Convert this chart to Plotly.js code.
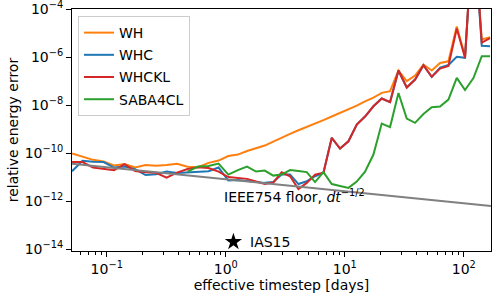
<!DOCTYPE html>
<html>
<head>
<meta charset="utf-8">
<script src="https://cdn.plot.ly/plotly-3.0.1.min.js"></script>
<style>html,body{margin:0;padding:0;background:#fff;}#chart{width:500px;height:300px;}</style>
</head>
<body>
<div id="chart"></div>
<script>
// effective timestep [days]
const timestep = [0.0511, 0.0626, 0.0767, 0.0940, 0.1151, 0.1411, 0.1729, 0.2119, 0.2596, 0.3181,
  0.3898, 0.4775, 0.5852, 0.7168, 0.8699, 1.051, 1.264, 1.510, 1.797, 2.127,
  2.507, 2.949, 3.470, 4.082, 4.793, 5.629, 6.622, 7.778, 9.131, 10.74,
  12.62, 14.81, 17.42, 20.46, 24.03, 28.27, 33.19, 38.98, 45.84, 53.84,
  63.22, 74.35, 87.35, 102.5, 120.6, 141.7, 166.3];

const errWH = [9.53e-11, 6.81e-11, 5.21e-11, 4.51e-11, 3.07e-11, 3.48e-11, 2.49e-11, 3.16e-11, 2.93e-11, 3.16e-11,
  3.58e-11, 2.69e-11, 2.59e-11, 3.91e-11, 4.87e-11, 7.50e-11, 8.66e-11, 1.21e-10, 1.61e-10, 2.05e-10,
  3.01e-10, 4.51e-10, 6.31e-10, 8.91e-10, 1.21e-9, 1.61e-9, 2.37e-9, 3.32e-9, 4.64e-9, 6.49e-9,
  9.53e-9, 1.43e-8, 2.05e-8, 3.22e-8, 3.76e-8, 2.74e-7, 1.0e-7, 1.69e-7, 4.87e-7, 2.74e-7,
  5.62e-7, 6.62e-7, 1.87e-5, 1.08e-6, 0.3, 5.36e-6, 6.68e-6];

const errWHC = [1.75e-11, 4.78e-11, 4.30e-11, 4.22e-11, 2.49e-11, 2.74e-11, 2.15e-11, 1.21e-11, 1.30e-11, 1.69e-11,
  1.47e-11, 1.57e-11, 1.69e-11, 1.75e-11, 2.49e-11, 7.15e-12, 7.50e-12, 7.01e-12, 6.31e-12, 5.73e-12,
  6.19e-12, 1.27e-11, 1.27e-11, 5.11e-12, 6.68e-12, 1.08e-11, 1.50e-11, 4.30e-10, 1.54e-10, 3.10e-10,
  1.54e-9, 3.32e-9, 8.91e-9, 1.87e-8, 1.33e-8, 2.74e-7, 5.36e-8, 1.15e-7, 4.55e-7, 1.50e-7,
  3.65e-7, 4.64e-7, 1.02e-6, 9.26e-7, 0.4, 2.93e-6, 2.82e-6];

const errWHCKL = [4.22e-11, 4.22e-11, 2.49e-11, 2.15e-11, 1.92e-11, 3.48e-11, 1.78e-11, 1.58e-11, 1.51e-11, 9.53e-12,
  1.54e-11, 2.15e-11, 2.54e-11, 2.37e-11, 1.69e-11, 1.0e-11, 9.26e-12, 8.41e-12, 6.49e-12, 5.11e-12,
  5.90e-12, 1.58e-11, 1.08e-11, 3.16e-12, 5.73e-12, 1.27e-11, 1.50e-11, 4.30e-10, 1.54e-10, 3.10e-10,
  1.54e-9, 3.32e-9, 8.91e-9, 1.87e-8, 1.33e-8, 2.74e-7, 5.36e-8, 1.15e-7, 4.55e-7, 1.50e-7,
  3.32e-7, 4.22e-7, 1.54e-5, 9.26e-7, 0.5, 4.02e-6, 6.19e-6];

const errSABA4CL = [null, null, null, null, null, null, null, null, null, null,
  null, 1.69e-11, 2.74e-11, 2.87e-11, 3.65e-11, 1.27e-11, 1.96e-11, 2.74e-11, 1.69e-11, 1.87e-11,
  1.15e-11, 1.27e-11, 1.96e-11, 1.78e-11, 1.61e-11, 6.19e-12, 1.61e-11, 5.11e-12, 4.22e-12, 3.55e-12,
  6.49e-12, 1.69e-11, 8.66e-11, 1.69e-9, 1.21e-9, 3.16e-8, 2.74e-9, 1.81e-9, 4.22e-9, 8.10e-9,
  8.66e-9, 1.69e-8, 1.36e-7, 4.22e-8, 1.33e-7, 1.08e-6, 1.08e-6];

// IEEE754 floor (dt^-1/2), endpoints
const floorX = [0.0508, 169];
const floorY = [3.63e-11, 6.3e-13];

// IAS15 point
const ias15X = [1.16];
const ias15Y = [2.0e-14];

// tick labels
const xTickVals = [0.1, 1, 10, 100];
const xTickText = ['10<sup>−1</sup>', '10<sup>0</sup>', '10<sup>1</sup>', '10<sup>2</sup>'];
const yTickVals = [1e-14, 1e-12, 1e-10, 1e-8, 1e-6, 1e-4];
const yTickText = ['10<sup>−14</sup>', '10<sup>−12</sup>', '10<sup>−10</sup>', '10<sup>−8</sup>', '10<sup>−6</sup>', '10<sup>−4</sup>'];

const seriesNames = ['WH', 'WHC', 'WHCKL', 'SABA4CL'];
const seriesData = [errWH, errWHC, errWHCKL, errSABA4CL];
const seriesColors = ['#ff7f0e', '#1f77b4', '#d62728', '#2ca02c'];

const FONT = 'DejaVu Sans, sans-serif';
const FS = 14;

const traces = seriesNames.map((n, i) => ({
  type: 'scatter', mode: 'lines', name: n, legendgroup: 'g' + i,
  x: timestep, y: seriesData[i],
  line: {color: seriesColors[i], width: 2},
  connectgaps: false
}));
traces.push({
  type: 'scatter', mode: 'lines', x: floorX, y: floorY,
  line: {color: '#808080', width: 2}, showlegend: false, hoverinfo: 'skip'
});
traces.push({
  type: 'scatter', mode: 'markers', x: ias15X, y: ias15Y,
  marker: {symbol: 'star', size: 13, color: 'black'}, showlegend: false
});

const layout = {
  width: 500, height: 300,
  margin: {l: 72, r: 9, t: 9, b: 49},
  paper_bgcolor: 'white', plot_bgcolor: 'white',
  font: {family: FONT, size: FS, color: 'black'},
  showlegend: true,
  legend: {
    x: 0.0143, y: 0.971, xanchor: 'left', yanchor: 'top',
    bgcolor: 'rgba(255,255,255,0.8)', bordercolor: '#cccccc', borderwidth: 1,
    font: {family: FONT, size: FS, color: 'black'},
    itemwidth: 30, tracegroupgap: 1
  },
  xaxis: {
    type: 'log', range: [-1.292, 2.229], tickmode: 'array', tickvals: xTickVals, ticktext: xTickText,
    showline: true, mirror: true, linecolor: 'black', linewidth: 1,
    ticks: 'outside', ticklen: 5, tickwidth: 1, tickcolor: 'black',
    showgrid: false, zeroline: false, ticklabeloverflow: 'allow',
    tickfont: {family: FONT, size: FS, color: 'black'},
    minor: {ticks: 'outside', ticklen: 3, tickwidth: 1, tickcolor: 'black', dtick: 'D1', showgrid: false},
    title: {text: 'effective timestep [days]', font: {family: FONT, size: FS, color: 'black'}, standoff: 4}
  },
  yaxis: {
    type: 'log', range: [-14.08, -3.999], tickmode: 'array', tickvals: yTickVals, ticktext: yTickText,
    showline: true, mirror: true, linecolor: 'black', linewidth: 1,
    ticks: 'outside', ticklen: 5, tickwidth: 1, tickcolor: 'black',
    showgrid: false, zeroline: false, ticklabeloverflow: 'allow',
    tickfont: {family: FONT, size: FS, color: 'black'},
    title: {text: 'relative energy error', font: {family: FONT, size: FS, color: 'black'}, standoff: 2}
  },
  annotations: [
    {x: Math.log10(0.93), y: Math.log10(1.7e-12), xref: 'x', yref: 'y', text: 'IEEE754 floor, <i>dt</i><sup>−1/2</sup>',
     showarrow: false, xanchor: 'left', yanchor: 'middle', font: {family: FONT, size: FS, color: 'black'}},
    {x: Math.log10(ias15X[0]), y: Math.log10(ias15Y[0]), xref: 'x', yref: 'y', text: 'IAS15',
     showarrow: false, xanchor: 'left', yanchor: 'middle', xshift: 15, font: {family: FONT, size: FS, color: 'black'}}
  ]
};

Plotly.newPlot('chart', traces, layout, {staticPlot: true, displayModeBar: false});
</script>
</body>
</html>
